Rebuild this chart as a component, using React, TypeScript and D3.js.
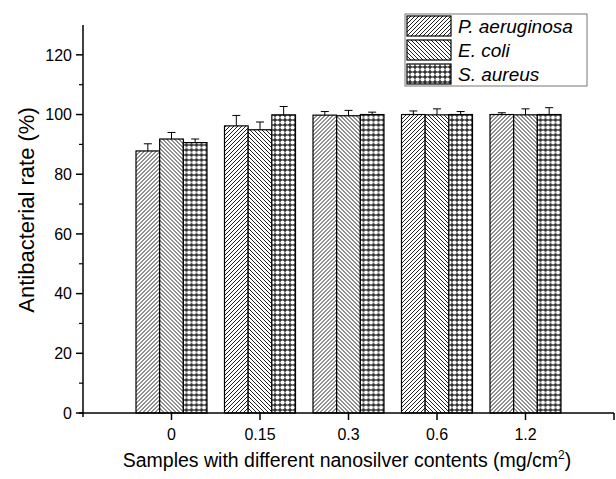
import React from "react";
import { scaleLinear, scaleBand, range } from "d3";

const categories = ["0", "0.15", "0.3", "0.6", "1.2"];
const seriesNames = ["P. aeruginosa", "E. coli", "S. aureus"];
const pAeruginosa = [87.8, 96.2, 99.8, 100, 100];
const eColi = [91.8, 94.9, 99.6, 99.9, 99.9];
const sAureus = [90.6, 99.9, 100, 100, 100];
const pAeruginosaErr = [2.4, 3.5, 1.2, 1.2, 0.6];
const eColiErr = [2.2, 2.6, 1.8, 2, 2];
const sAureusErr = [1.2, 2.8, 0.8, 1, 2.3];
const yTicks = [0, 20, 40, 60, 80, 100, 120];
const yMinorTicks = [10, 30, 50, 70, 90, 110];

const values = [pAeruginosa, eColi, sAureus];
const errors = [pAeruginosaErr, eColiErr, sAureusErr];
const patternIds = ["hatchUp", "hatchDown", "dots"];
const font = "Liberation Sans, Arial, sans-serif";

export default function App() {
  const width = 616;
  const height = 479;
  const xLeft = 83;
  const xRight = 614;
  const yBottom = 413;
  const yTop = 25;

  const xScale = scaleLinear().domain([0, categories.length + 1]).range([xLeft, xRight]);
  const inner = scaleBand().domain(seriesNames).range([-35.5, 35.5]);
  const yScale = scaleLinear().domain([0, 130]).range([yBottom, yTop]);

  return (
    <svg
      width={width}
      height={height}
      style={{ position: "absolute", left: 0, top: 0, background: "#fff" }}
      fontFamily={font}
    >
      <defs>
        <pattern id="hatchUp" width={4} height={4} patternUnits="userSpaceOnUse">
          <rect width={4} height={4} fill="#fff" />
          <path d="M-1,1 l2,-2 M0,4 l4,-4 M3,5 l2,-2" stroke="#222" strokeWidth={1} />
        </pattern>
        <pattern id="hatchDown" width={4} height={4} patternUnits="userSpaceOnUse">
          <rect width={4} height={4} fill="#fff" />
          <path d="M-1,3 l2,2 M0,0 l4,4 M3,-1 l2,2" stroke="#222" strokeWidth={1} />
        </pattern>
        <pattern id="dots" width={5} height={5} patternUnits="userSpaceOnUse">
          <rect width={5} height={5} fill="#333" />
          <circle cx={2.5} cy={2.5} r={2.1} fill="#fff" />
        </pattern>
      </defs>

      {/* bars */}
      {categories.map((c, i) => (
        <g key={c} transform={`translate(${xScale(i + 1)},0)`}>
          {seriesNames.map((s, j) => {
            const v = values[j][i];
            const e = errors[j][i];
            const x0 = inner(s)!;
            const bw = inner.bandwidth();
            const cx = x0 + bw / 2;
            return (
              <g key={s}>
                <line x1={cx} x2={cx} y1={yScale(v)} y2={yScale(v + e)} stroke="#000" />
                <line x1={cx - 4} x2={cx + 4} y1={yScale(v + e)} y2={yScale(v + e)} stroke="#000" />
                <rect
                  x={x0}
                  y={yScale(v)}
                  width={bw}
                  height={yScale(0) - yScale(v)}
                  fill={`url(#${patternIds[j]})`}
                  stroke="#000"
                  strokeWidth={1.2}
                />
              </g>
            );
          })}
        </g>
      ))}

      {/* y axis */}
      <line x1={xLeft} x2={xLeft} y1={yTop} y2={yBottom + 4} stroke="#000" strokeWidth={1.5} />
      {yTicks.map((t) => (
        <g key={t} transform={`translate(0,${yScale(t)})`}>
          <line x1={xLeft - 7} x2={xLeft} stroke="#000" strokeWidth={1.5} />
          <text x={xLeft - 11} dy="0.36em" textAnchor="end" fontSize={16}>
            {t}
          </text>
        </g>
      ))}
      {yMinorTicks.map((t) => (
        <line key={t} x1={xLeft - 4} x2={xLeft} y1={yScale(t)} y2={yScale(t)} stroke="#000" strokeWidth={1.2} />
      ))}

      {/* x axis */}
      <line x1={xLeft - 4} x2={xRight} y1={yBottom} y2={yBottom} stroke="#000" strokeWidth={1.5} />
      {range(1, categories.length + 2).map((k) => (
        <line key={k} x1={xScale(k)} x2={xScale(k)} y1={yBottom} y2={yBottom + 7} stroke="#000" strokeWidth={1.5} />
      ))}
      {categories.map((c, i) => (
        <text key={c} x={xScale(i + 1)} y={440} textAnchor="middle" fontSize={16}>
          {c}
        </text>
      ))}

      {/* axis titles */}
      <text transform={`translate(34,210) rotate(-90)`} textAnchor="middle" fontSize={22}>
        Antibacterial rate (%)
      </text>
      <text x={347} y={467} textAnchor="middle" fontSize={19.5}>
        Samples with different nanosilver contents (mg/cm
        <tspan dy={-8} fontSize={12}>2</tspan>
        <tspan dy={8}>)</tspan>
      </text>

      {/* legend */}
      <rect x={405} y={14} width={182} height={72} fill="#fff" stroke="#777" strokeWidth={1} />
      {seriesNames.map((s, j) => (
        <g key={s} transform={`translate(405,${14 + j * 24})`}>
          <rect x={2} y={2} width={44} height={20} fill={`url(#${patternIds[j]})`} stroke="#000" strokeWidth={1.2} />
          <text x={53} y={19} fontSize={19} fontStyle="italic">
            {s}
          </text>
        </g>
      ))}
    </svg>
  );
}
